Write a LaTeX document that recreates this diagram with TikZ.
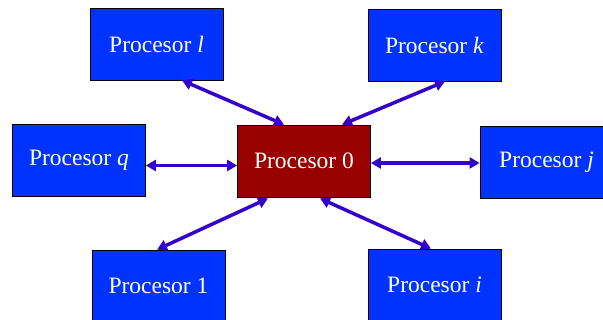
\documentclass[tikz,border=0pt]{standalone}
\usepackage{fontspec}
\setmainfont{Liberation Serif}
\usetikzlibrary{arrows.meta,calc}
\definecolor{procblue}{RGB}{0,51,255}
\definecolor{procred}{RGB}{153,0,0}
\definecolor{linkcol}{RGB}{51,0,204}
\begin{document}
\begin{tikzpicture}[x=1pt,y=-1pt,
  proc/.style={draw=black,line width=0.8pt,fill=procblue,text=white,
    minimum width=133pt,minimum height=72pt,inner sep=0pt,
    font=\fontsize{23.5}{28}\selectfont},
  master/.style={proc,fill=procred},
  link/.style={draw=linkcol,line width=3.5pt,
    {Triangle[length=10pt,width=11pt]}-{Triangle[length=10pt,width=11pt]}}]
\useasboundingbox (0,0) rectangle (603,320);
\clip (0,0) rectangle (603,320);
\fill[white] (0,0) rectangle (603,320);

% processors
\node[master] (p0) at (304,161) {Procesor 0};
\node[proc] (pl) at (156.5,44) {Procesor \textit{l}};
\node[proc] (pk) at (434.5,45) {Procesor \textit{k}};
\node[proc] (pq) at (79,160) {Procesor \textit{q}};
\node[proc] (pj) at (546.5,162) {Procesor \textit{j}};
\node[proc] (p1) at (158.5,286) {Procesor 1};
\node[proc] (pi) at (434.5,285) {Procesor \textit{i}};

% links to the central processor
\draw[link] ($(pl.south)+(25.5,0)$) -- ($(p0.north)+(-20,0)$);
\draw[link] ($(pk.south)+(10.5,0)$) -- ($(p0.north)+(38,0)$);
\draw[link] ($(pq.east)+(0,5.5)$) -- ($(p0.west)+(0,4.5)$);
\draw[link] ($(p0.east)+(0,2)$) -- ($(pj.west)+(0,1)$);
\draw[link] ($(p0.south)+(-36,1)$) -- ($(p1.north)+(-1.5,0)$);
\draw[link] ($(p0.south)+(16,1)$) -- ($(pi.north)+(-3.5,0)$);
\end{tikzpicture}
\end{document}
